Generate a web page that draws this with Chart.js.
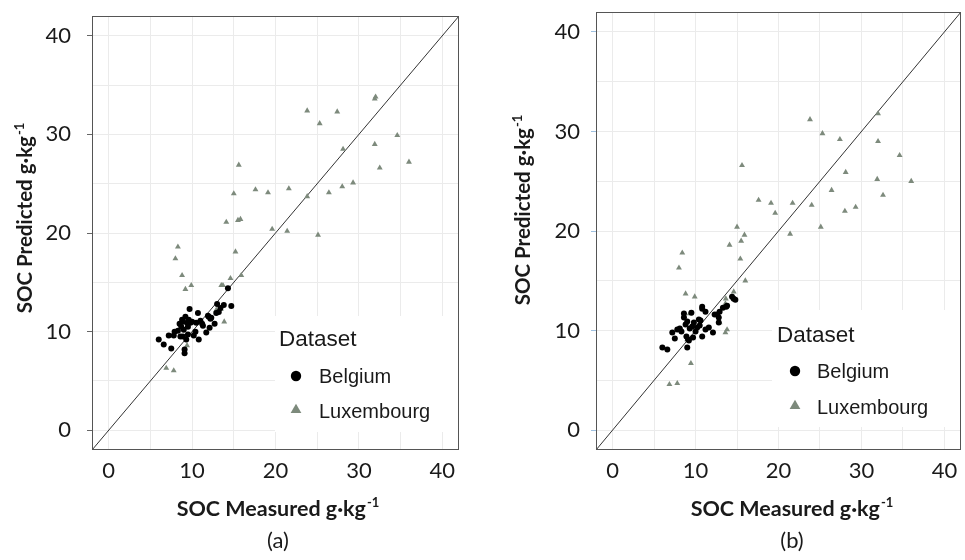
<!DOCTYPE html>
<html><head><meta charset="utf-8">
<script src="https://cdn.jsdelivr.net/npm/chart.js@4.4.1/dist/chart.umd.min.js"></script>
<style>
html,body{margin:0;padding:0;background:#fff;width:965px;height:560px;overflow:hidden}
canvas{position:absolute;top:0}
</style></head><body>
<canvas id="chartA" width="480" height="560" style="left:0"></canvas>
<canvas id="chartB" width="485" height="560" style="left:480px"></canvas>
<script>
// ---------- data ----------
const AXIS_RANGE = [-2, 42];
const GRID_TICKS = [0, 5, 10, 15, 20, 25, 30, 35, 40];
const TICK_LABELS = ['0', '10', '20', '30', '40'];
const IDENTITY = [-2, 42];
const SERIES_NAMES = ['Belgium', 'Luxembourg'];

const BELGIUM_A = [[6.0,9.2],[6.6,8.7],[7.2,9.6],[7.5,8.3],[7.8,9.6],[7.9,10.0],[8.3,10.1],[8.5,10.8],[8.6,9.5],[8.7,10.5],[8.8,11.2],[8.9,11.0],[8.9,9.5],[9.1,8.2],[9.1,7.8],[9.2,11.5],[9.3,9.2],[9.4,10.9],[9.5,10.5],[9.5,9.7],[9.6,11.2],[9.7,12.3],[9.8,10.9],[10.0,11.0],[10.4,10.0],[10.5,10.9],[10.7,11.9],[10.8,9.2],[11.0,11.1],[11.2,10.8],[11.3,10.6],[11.7,9.9],[11.9,11.6],[12.0,11.5],[12.1,10.4],[12.2,11.3],[12.3,11.4],[12.7,10.8],[12.9,11.9],[13.0,12.8],[13.2,12.0],[13.4,12.4],[13.8,12.7],[14.3,14.4],[14.7,12.6],[10.2,9.6],[9.0,10.2]];
const LUXEMBOURG_A = [[31.9,33.6],[32.0,33.8],[23.8,32.4],[27.4,32.3],[25.3,31.1],[34.6,29.9],[31.9,29.0],[28.1,28.5],[15.6,26.9],[36.0,27.2],[32.5,26.6],[29.3,25.1],[28.0,24.7],[26.4,24.1],[21.6,24.5],[17.6,24.4],[19.1,24.1],[15.0,24.0],[23.8,23.7],[14.1,21.1],[15.5,21.3],[15.8,21.4],[19.6,20.4],[21.4,20.2],[25.1,19.8],[8.3,18.6],[8.0,17.4],[15.2,18.1],[8.8,15.7],[14.6,15.4],[15.9,15.7],[9.2,14.3],[9.9,14.7],[13.5,14.7],[13.7,14.7],[13.85,11.0],[12.9,12.2],[13.45,12.3],[6.9,6.3],[7.8,6.05],[9.4,8.6],[8.9,11.1]];
const BELGIUM_B = [[6.0,8.3],[6.6,8.1],[7.2,9.8],[7.5,9.2],[7.8,10.1],[8.1,10.2],[8.3,9.9],[8.6,11.7],[8.6,11.3],[8.8,10.6],[9.0,10.9],[8.9,9.4],[9.1,9.1],[9.0,8.3],[9.5,11.8],[9.3,10.2],[9.6,10.4],[9.7,9.3],[9.8,10.8],[10.0,9.9],[10.2,10.3],[10.4,11.1],[10.5,10.5],[10.8,12.4],[10.8,12.2],[10.8,9.4],[11.2,11.9],[11.2,10.1],[11.6,10.3],[12.1,9.8],[12.3,11.6],[12.6,11.6],[12.8,11.3],[12.9,11.9],[12.8,10.8],[13.3,12.3],[13.7,12.4],[13.8,12.5],[14.4,13.4],[14.6,13.2],[14.8,13.1],[9.2,9.0],[10.6,11.0]];
const LUXEMBOURG_B = [[23.8,31.2],[32.0,31.8],[25.3,29.8],[27.4,29.2],[32.0,29.0],[34.6,27.6],[15.6,26.6],[28.1,25.9],[31.9,25.2],[36.0,25.0],[26.4,24.1],[32.6,23.6],[17.6,23.1],[19.1,22.8],[21.7,22.8],[24.0,22.6],[29.3,22.4],[28.0,22.0],[19.6,21.8],[15.0,20.4],[15.9,19.6],[15.5,19.0],[25.1,20.4],[21.4,19.7],[14.1,18.6],[15.4,17.2],[16.0,15.0],[8.4,17.8],[8.0,16.3],[8.8,13.7],[9.9,13.4],[14.6,13.9],[13.65,13.2],[13.6,12.7],[12.9,10.8],[13.8,10.1],[13.6,9.8],[9.44,6.7],[6.85,4.6],[7.8,4.7],[9.0,9.1],[9.3,11.7]];

// ---------- styles ----------
const BEL_COLOR = '#000000';
const LUX_COLOR = 'rgb(125,138,124)';
const GRID_COLOR = '#ebebeb';
const FRAME_COLOR = '#555555';
const TXT = '#1a1a1a';
const TICK_FONT = "Lato, 'Open Sans', sans-serif";
const LEG_FONT = "'Liberation Sans', Arial, sans-serif";

const toXY = arr => arr.map(p => ({x: p[0], y: p[1]}));

function supText(ctx, main, sup, cx, cy, size) {
  const f1 = `bold ${size}px ${TICK_FONT}`;
  const f2 = `bold ${Math.round(size * 0.62)}px ${TICK_FONT}`;
  ctx.font = f1; const w1 = ctx.measureText(main).width;
  ctx.font = f2; const w2 = ctx.measureText(sup).width;
  const x = cx - (w1 + w2 + 1) / 2;
  const base = cy + size * 0.36;
  ctx.textAlign = 'left'; ctx.textBaseline = 'alphabetic'; ctx.fillStyle = TXT;
  ctx.font = f1; ctx.fillText(main, x, base);
  ctx.font = f2; ctx.fillText(sup, x + w1 + 1, base - size * 0.42);
}

const panelPlugin = {
  id: 'panel',
  beforeDatasetsDraw(chart, args, o) {
    const {ctx, chartArea: ca} = chart;
    ctx.save();
    ctx.fillStyle = '#fff';
    ctx.fillRect(ca.right - o.box[0], ca.bottom - o.box[1], o.box[0] - 0.5, o.box[1] - o.box[2]);
    ctx.restore();
  },
  afterDraw(chart, args, o) {
    const {ctx, chartArea: ca} = chart;
    ctx.save();
    // frame
    ctx.strokeStyle = FRAME_COLOR; ctx.lineWidth = 1;
    ctx.strokeRect(ca.left + 0.5, ca.top + 0.5, ca.right - ca.left - 1, ca.bottom - ca.top - 1);
    // legend
    const L = o.leg;
    ctx.fillStyle = TXT; ctx.textAlign = 'left'; ctx.textBaseline = 'middle';
    ctx.font = `22.5px ${LEG_FONT}`;
    ctx.fillText('Dataset', ca.right - L.title[0], ca.bottom - L.title[1]);
    ctx.font = `20px ${LEG_FONT}`;
    const mx = ca.right - L.markerX, tx = ca.right - L.textX;
    const y1 = ca.bottom - L.rows[0], y2 = ca.bottom - L.rows[1];
    ctx.fillStyle = BEL_COLOR;
    ctx.beginPath(); ctx.arc(mx, y1, 5.2, 0, Math.PI * 2); ctx.fill();
    ctx.fillStyle = LUX_COLOR;
    const r = 6.2;
    ctx.beginPath();
    ctx.moveTo(mx, y2 - r);
    ctx.lineTo(mx + r * 0.866, y2 + r * 0.5);
    ctx.lineTo(mx - r * 0.866, y2 + r * 0.5);
    ctx.closePath(); ctx.fill();
    ctx.fillStyle = TXT;
    ctx.fillText(chart.data.datasets[0].label, tx, y1 + 1);
    ctx.fillText(chart.data.datasets[1].label, tx, y2 + 2);
    // axis titles
    supText(ctx, 'SOC Measured g\u00B7kg', '-1', o.xTitle[0], o.xTitle[1], 21.5);
    ctx.save();
    ctx.translate(o.yTitle[0], o.yTitle[1]);
    ctx.rotate(-Math.PI / 2);
    supText(ctx, 'SOC Predicted g\u00B7kg', '-1', 0, 0, 20.5);
    ctx.restore();
    // panel letter
    ctx.font = `22px ${TICK_FONT}`; ctx.fillStyle = TXT;
    ctx.textAlign = 'center'; ctx.textBaseline = 'middle';
    ctx.fillText(o.letter, o.letterPos[0], o.letterPos[1]);
    ctx.restore();
  }
};

function makeChart(id, bel, lux, cfg) {
  const setTicks = s => { s.ticks = GRID_TICKS.map(v => ({value: v})); };
  const label = v => (v % 10 === 0 ? TICK_LABELS[v / 10] : '');
  return new Chart(document.getElementById(id), {
    type: 'scatter',
    data: {
      datasets: [
        {label: SERIES_NAMES[0], data: toXY(bel), backgroundColor: BEL_COLOR, pointStyle: 'circle', pointRadius: 3, pointBorderWidth: 0},
        {label: SERIES_NAMES[1], data: toXY(lux), backgroundColor: LUX_COLOR, pointStyle: 'triangle', pointRadius: 3.4, pointBorderWidth: 0},
        {type: 'line', label: '1:1', data: [{x: IDENTITY[0], y: IDENTITY[0]}, {x: IDENTITY[1], y: IDENTITY[1]}], borderColor: '#333', borderWidth: 1, pointRadius: 0, fill: false}
      ]
    },
    options: {
      responsive: false, animation: false, events: [],
      layout: {padding: {left: 0, top: cfg.padTop, right: cfg.padRight, bottom: 0}},
      plugins: {legend: {display: false}, tooltip: {enabled: false}, panel: cfg.panel},
      scales: {
        x: {
          type: 'linear', min: AXIS_RANGE[0], max: AXIS_RANGE[1],
          afterBuildTicks: setTicks,
          afterFit: s => { s.height = 110; s.paddingLeft = 0; s.paddingRight = 0; },
          grid: {color: GRID_COLOR, drawTicks: false},
          border: {display: false},
          ticks: {callback: label, padding: 8, color: TXT, font: {family: TICK_FONT, size: 22}, maxRotation: 0, autoSkip: false}
        },
        y: {
          type: 'linear', min: AXIS_RANGE[0], max: AXIS_RANGE[1],
          afterBuildTicks: setTicks,
          afterFit: s => { s.width = cfg.yWidth; s.paddingTop = 0; s.paddingBottom = 0; },
          grid: {color: GRID_COLOR, tickLength: 5, tickColor: c => (c.tick && c.tick.value % 10 === 0 ? cfg.tickColor : 'rgba(0,0,0,0)')},
          border: {display: false},
          ticks: {callback: label, padding: cfg.tickPad, color: TXT, font: {family: TICK_FONT, size: 22}, autoSkip: false}
        }
      }
    },
    plugins: [panelPlugin]
  });
}

makeChart('chartA', BELGIUM_A, LUXEMBOURG_A, {
  padTop: 16, padRight: 21, yWidth: 92, tickPad: 16, tickColor: '#666',
  panel: {
    box: [184, 134, 18],
    leg: {title: [180, 110], markerX: 163, textX: 140, rows: [74, 40]},
    xTitle: [278, 508], yTitle: [25, 218], letter: '(a)', letterPos: [278, 541]
  }
});
makeChart('chartB', BELGIUM_B, LUXEMBOURG_B, {
  padTop: 12, padRight: 3, yWidth: 116, tickPad: 11, tickColor: '#9fc0e0',
  panel: {
    box: [189, 140, 23],
    leg: {title: [184, 114], markerX: 166, textX: 144, rows: [79, 44]},
    xTitle: [312, 508], yTitle: [43, 210], letter: '(b)', letterPos: [312, 541]
  }
});
</script>
</body></html>
